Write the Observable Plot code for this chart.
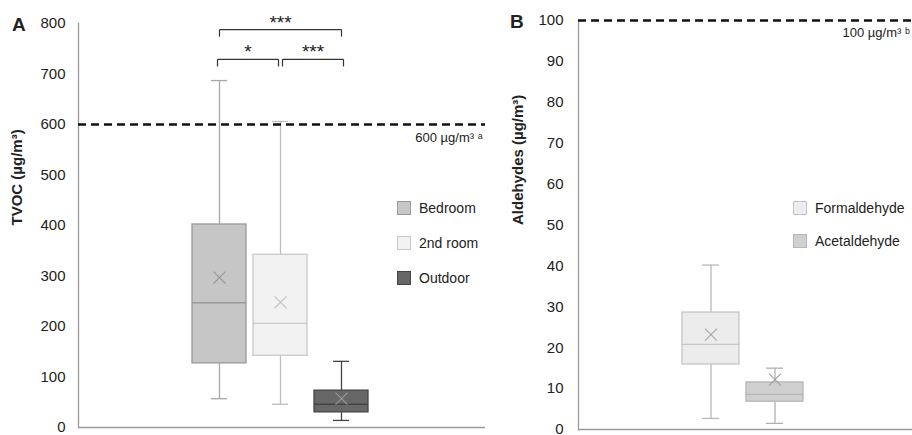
<!DOCTYPE html>
<html>
<head>
<meta charset="utf-8">
<script src="https://cdn.jsdelivr.net/npm/d3@7"></script>
<script src="https://cdn.jsdelivr.net/npm/@observablehq/plot@0.6"></script>
<style>
  html, body { margin: 0; padding: 0; background: #fff; }
  #chart { position: relative; width: 912px; height: 435px; font-family: "Liberation Sans", Arial, sans-serif; color: #222; overflow: hidden; }
  #chart svg { position: absolute; top: 0; }
  .panel-letter { position: absolute; font-weight: bold; font-size: 19px; line-height: 1; }
  .legend { position: absolute; font-size: 14px; }
  .legend .item { position: absolute; white-space: nowrap; display: flex; align-items: center; }
  .legend .sw { width: 14px; height: 14px; box-sizing: border-box; border: 1px solid; margin-right: 8px; }
</style>
</head>
<body>
<div id="chart"></div>
<script>
// ---------- Data ----------
// Panel A: TVOC
const tvocGroups = ["Bedroom", "2nd room", "Outdoor"];
const tvocMin    = [57, 46, 14];
const tvocQ1     = [127, 142, 30];
const tvocMedian = [247, 206, 46];
const tvocQ3     = [402, 342, 73];
const tvocMax    = [687, 606, 131];
const tvocMean   = [297, 248, 57];
const tvocTicks  = [0, 100, 200, 300, 400, 500, 600, 700, 800];
const tvocLimit  = 600;
const tvocLimitLabel = "600 µg/m³ ᵃ";
const tvocAxisLabel = "TVOC (µg/m³)";

// significance brackets
const sigFrom  = ["Bedroom", "Bedroom", "2nd room"];
const sigTo    = ["Outdoor", "2nd room", "Outdoor"];
const sigLevel = [788, 729, 729];
const sigLabel = ["***", "*", "***"];

// Panel B: Aldehydes
const aldGroups = ["Formaldehyde", "Acetaldehyde"];
const aldMin    = [2.7, 1.5];
const aldQ1     = [15.9, 6.8];
const aldMedian = [20.8, 8.6];
const aldQ3     = [28.6, 11.5];
const aldMax    = [40.2, 15.0];
const aldMean   = [23.2, 12.2];
const aldTicks  = [0, 10, 20, 30, 40, 50, 60, 70, 80, 90, 100];
const aldLimit  = 100;
const aldLimitLabel = "100 µg/m³ ᵇ";
const aldAxisLabel = "Aldehydes (µg/m³)";

// ---------- Styles ----------
const style = {
  "Bedroom":      {fill: "#c6c6c6", stroke: "#999999", whisker: "#a8a8a8", mean: "#999999"},
  "2nd room":     {fill: "#f2f2f2", stroke: "#c8c8c8", whisker: "#bdbdbd", mean: "#c4c4c4"},
  "Outdoor":      {fill: "#676767", stroke: "#444444", whisker: "#444444", mean: "#9a9a9a"},
  "Formaldehyde": {fill: "#ececec", stroke: "#c6c6c6", whisker: "#b8b8b8", mean: "#a8a8a8"},
  "Acetaldehyde": {fill: "#d0d0d0", stroke: "#b5b5b5", whisker: "#b0b0b0", mean: "#a0a0a0"}
};
const FONT = "Liberation Sans, Arial, sans-serif";

function rows(groups, mn, q1, md, q3, mx, me) {
  return groups.map((g, i) => ({group: g, min: mn[i], q1: q1[i], median: md[i], q3: q3[i], max: mx[i], mean: me[i]}));
}

function boxMarks(data, capInset) {
  return [
    Plot.ruleX(data, {x: "group", y1: "min", y2: "q1", stroke: d => style[d.group].whisker, strokeWidth: 1.3}),
    Plot.ruleX(data, {x: "group", y1: "q3", y2: "max", stroke: d => style[d.group].whisker, strokeWidth: 1.3}),
    Plot.tickY(data, {x: "group", y: "min", stroke: d => style[d.group].whisker, strokeWidth: 1.3, insetLeft: capInset, insetRight: capInset}),
    Plot.tickY(data, {x: "group", y: "max", stroke: d => style[d.group].whisker, strokeWidth: 1.3, insetLeft: capInset, insetRight: capInset}),
    Plot.barY(data, {x: "group", y1: "q1", y2: "q3", fill: d => style[d.group].fill, stroke: d => style[d.group].stroke, strokeWidth: 1.3}),
    Plot.tickY(data, {x: "group", y: "median", stroke: d => style[d.group].stroke, strokeWidth: 1.3}),
    Plot.dot(data, {x: "group", y: "mean", symbol: "times", r: 5.5, stroke: d => style[d.group].mean, strokeWidth: 1.1})
  ];
}

const chart = document.getElementById("chart");

// ---------- Panel A ----------
const tvoc = rows(tvocGroups, tvocMin, tvocQ1, tvocMedian, tvocQ3, tvocMax, tvocMean);
const stepA = 61;
const xRangeA = [185, 375];
const sig = sigFrom.map((f, i) => ({from: f, to: sigTo[i], level: sigLevel[i], label: sigLabel[i],
  fromIdx: tvocGroups.indexOf(f), span: tvocGroups.indexOf(sigTo[i]) - tvocGroups.indexOf(f)}));
const bracketDrop = 14;

function bracketMarks(s) {
  // adjacent brackets are nudged apart so they don't touch
  const nudge = s.span === 1 ? (s.fromIdx === 0 ? -2 : 2) : 0;
  const o = {stroke: "#333", strokeWidth: 1.2, dx: nudge};
  return [
    Plot.link([s], {x1: "from", x2: "to", y1: "level", y2: "level", ...o}),
    Plot.link([s], {x1: "from", x2: "from", y1: "level", y2: d => d.level - bracketDrop, ...o}),
    Plot.link([s], {x1: "to", x2: "to", y1: "level", y2: d => d.level - bracketDrop, ...o}),
    Plot.text([s], {x: "from", y: "level", text: "label", dx: s.span * stepA / 2 + nudge, dy: -7, fontSize: 19, fill: "#222", lineAnchor: "middle"})
  ];
}

const plotA = Plot.plot({
  width: 490, height: 435,
  marginLeft: 78, marginRight: 5, marginTop: 23, marginBottom: 8,
  style: {fontFamily: FONT, fontSize: "15px", color: "#222", background: "transparent", overflow: "visible"},
  x: {type: "band", domain: tvocGroups, range: xRangeA, padding: 7 / stepA, axis: null},
  y: {domain: [0, 800], axis: null},
  color: {type: "identity"},
  marks: [
    Plot.frame({anchor: "left", stroke: "#9a9a9a", strokeWidth: 1.3}),
    Plot.ruleY([0], {stroke: "#9a9a9a", strokeWidth: 1.3}),
    Plot.axisY({ticks: tvocTicks, tickSize: 0, tickPadding: 13, fontSize: 15, label: null, tickFormat: d => d}),
    Plot.text([tvocAxisLabel], {text: d => d, frameAnchor: "left", rotate: -90, dx: -61, fontWeight: "bold", fontSize: 15, fill: "#222"}),
    ...boxMarks(tvoc, 19),
    Plot.ruleY([tvocLimit], {y: d => d, stroke: "#111", strokeWidth: 2.3, strokeDasharray: "8,5"}),
    Plot.text([tvocLimit], {y: d => d, text: () => tvocLimitLabel, frameAnchor: "right", textAnchor: "end", dx: -3, dy: 13, fontSize: 13, fill: "#222"}),
    ...sig.flatMap(bracketMarks)
  ]
});
plotA.style.left = "0px";
chart.appendChild(plotA);

// ---------- Panel B ----------
const ald = rows(aldGroups, aldMin, aldQ1, aldMedian, aldQ3, aldMax, aldMean);
const stepB = 64;
const plotB = Plot.plot({
  width: 422, height: 435,
  marginLeft: 88, marginRight: 0, marginTop: 20, marginBottom: 6,
  style: {fontFamily: FONT, fontSize: "15px", color: "#222", background: "transparent", overflow: "visible"},
  x: {type: "band", domain: aldGroups, range: [185, 320], padding: 7 / stepB, axis: null},
  y: {domain: [0, 100], axis: null},
  color: {type: "identity"},
  marks: [
    Plot.frame({anchor: "left", stroke: "#9a9a9a", strokeWidth: 1.3}),
    Plot.ruleY([0], {stroke: "#9a9a9a", strokeWidth: 1.3}),
    Plot.axisY({ticks: aldTicks, tickSize: 0, tickPadding: 15, fontSize: 15, label: null, tickFormat: d => d}),
    Plot.text([aldAxisLabel], {text: d => d, frameAnchor: "left", rotate: -90, dx: -60, fontWeight: "bold", fontSize: 15, fill: "#222"}),
    ...boxMarks(ald, 20),
    Plot.ruleY([aldLimit], {y: d => d, stroke: "#111", strokeWidth: 2.3, strokeDasharray: "8,5"}),
    Plot.text([aldLimit], {y: d => d, text: () => aldLimitLabel, frameAnchor: "right", textAnchor: "start", dx: -70, dy: 12, fontSize: 13, fill: "#222"})
  ]
});
plotB.style.left = "490px";
chart.appendChild(plotB);

// ---------- Panel letters ----------
function letter(t, x, y) {
  const d = document.createElement("div");
  d.className = "panel-letter"; d.textContent = t;
  d.style.left = x + "px"; d.style.top = y + "px";
  chart.appendChild(d);
}
letter("A", 12, 15);
letter("B", 510, 12);

// ---------- Legends ----------
function legend(groups, x, ys) {
  const L = document.createElement("div");
  L.className = "legend";
  groups.forEach((g, i) => {
    const it = document.createElement("div");
    it.className = "item";
    it.style.left = x + "px"; it.style.top = (ys[i] - 9) + "px";
    const sw = document.createElement("span");
    sw.className = "sw"; sw.style.background = style[g].fill; sw.style.borderColor = style[g].stroke;
    const tx = document.createElement("span"); tx.textContent = g;
    it.appendChild(sw); it.appendChild(tx);
    L.appendChild(it);
  });
  chart.appendChild(L);
}
legend(tvocGroups, 397, [209, 244, 279]);
legend(aldGroups, 793, [209, 242]);
</script>
</body>
</html>
